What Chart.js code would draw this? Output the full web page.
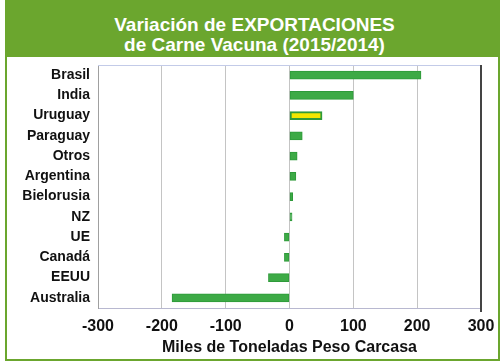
<!DOCTYPE html>
<html>
<head>
<meta charset="utf-8">
<script src="https://cdn.jsdelivr.net/npm/chart.js@4.4.1/dist/chart.umd.min.js"></script>
<style>
  html, body { margin: 0; padding: 0; background: #ffffff; }
  body { width: 500px; height: 363px; position: relative; overflow: hidden; font-family: "Liberation Sans", Arial, sans-serif; }
  #header { position: absolute; left: 5px; top: 0; width: 495px; height: 57px; background: #6ba62e; color: #ffffff; font-weight: bold; font-size: 19px; line-height: 20px; text-align: center; box-sizing: border-box; padding-top: 15px; padding-left: 4px; }
  #panel { position: absolute; left: 5px; top: 55px; width: 495px; height: 306px; box-sizing: border-box; border: 2px solid #6ba62e; background: #ffffff; }
  #wrap { position: absolute; left: 0; top: 0; width: 500px; height: 363px; }
</style>
</head>
<body>
<div id="panel"></div>
<div id="header">Variación de EXPORTACIONES<br>de Carne Vacuna (2015/2014)</div>
<div id="wrap"><canvas id="c" width="500" height="363"></canvas></div>
<script>
const categories = ["Brasil", "India", "Uruguay", "Paraguay", "Otros", "Argentina", "Bielorusia", "NZ", "UE", "Canadá", "EEUU", "Australia"];
const values = [206, 100, 51, 20, 12, 10, 5, 4, -8, -8, -33, -184];
const xTicks = [-300, -200, -100, 0, 100, 200, 300];
const highlight = "Uruguay";
const xTitle = "Miles de Toneladas Peso Carcasa";

const green = "#3daa46";
const greenBorder = "#2e9a3a";
const yellow = "#f2e600";

const frame = {
  id: "frame",
  afterDatasetsDraw(chart) {
    const a = chart.chartArea, ctx = chart.ctx;
    ctx.save();
    ctx.strokeStyle = "#c3cbe8";
    ctx.lineWidth = 1;
    ctx.beginPath(); ctx.moveTo(a.left, a.top + 0.5); ctx.lineTo(a.right, a.top + 0.5); ctx.stroke();
    ctx.strokeStyle = "#444444";
    ctx.lineWidth = 2;
    ctx.beginPath(); ctx.moveTo(a.right, a.top); ctx.lineTo(a.right, a.bottom + 4); ctx.stroke();
    ctx.restore();
  }
};

new Chart(document.getElementById("c"), {
  type: "bar",
  data: {
    labels: categories,
    datasets: [{
      data: values,
      backgroundColor: categories.map(c => c === highlight ? yellow : green),
      borderColor: greenBorder,
      borderWidth: categories.map(c => c === highlight ? 2 : 1),
      borderSkipped: false,
      barThickness: 8
    }]
  },
  options: {
    indexAxis: "y",
    responsive: false,
    animation: false,
    layout: { padding: { left: 0, right: 19, top: 65, bottom: 0 } },
    plugins: { legend: { display: false }, tooltip: { enabled: false }, title: { display: false } },
    scales: {
      x: {
        min: -300, max: 300,
        afterBuildTicks(s) { s.ticks = xTicks.map(v => ({ value: v })); },
        afterFit(s) { s.height = 55; s.paddingRight = 0; s.paddingLeft = 0; },
        grid: { color: "#c4c4c4", lineWidth: 1, drawTicks: false },
        border: { color: "#b8b8d0", width: 1 },
        ticks: { color: "#111111", font: { family: "Liberation Sans", weight: "bold", size: 16 }, padding: 9 },
        title: { display: true, text: xTitle, color: "#111111", font: { family: "Liberation Sans", weight: "bold", size: 16 }, padding: { top: 0, bottom: 6 } }
      },
      y: {
        afterFit(s) { s.width = 98; },
        grid: { display: false, drawTicks: false },
        border: { color: "#a0a0a0", width: 1 },
        ticks: { color: "#111111", font: { family: "Liberation Sans", weight: "bold", size: 14 }, padding: 8 }
      }
    }
  },
  plugins: [frame]
});
</script>
</body>
</html>
